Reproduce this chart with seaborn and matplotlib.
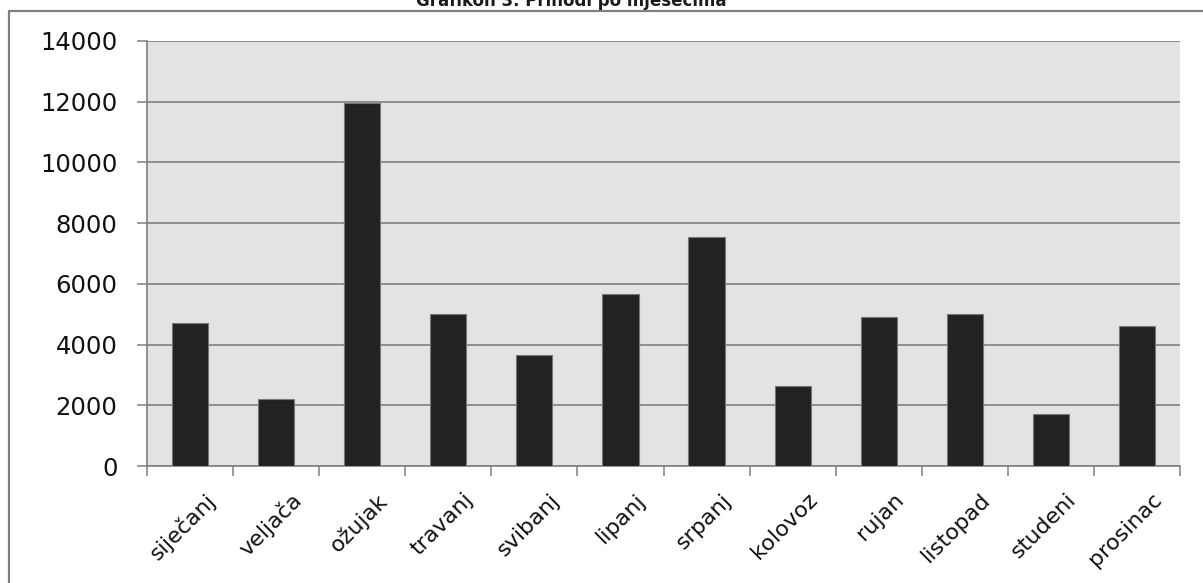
import numpy as np
import pandas as pd
import matplotlib
matplotlib.use("Agg")
import matplotlib.pyplot as plt
import matplotlib.transforms as mtransforms
from matplotlib.lines import Line2D
import seaborn as sns

months = ["siječanj", "veljača", "ožujak", "travanj", "svibanj", "lipanj",
          "srpanj", "kolovoz", "rujan", "listopad", "studeni", "prosinac"]
income = [4700, 2220, 11950, 5000, 3650, 5680, 7550, 2640, 4910, 5000, 1710, 4600]
y_ticks = [0, 2000, 4000, 6000, 8000, 10000, 12000, 14000]
title = "Grafikon 3. Prihodi po mjesecima"

sns.set_theme(style="white")
plt.rcParams["font.family"] = ["DejaVu Sans"]

W, H = 1203, 583
fig = plt.figure(figsize=(W / 100, H / 100), dpi=100)
fig.patch.set_facecolor("white")
ax = fig.add_axes([147 / W, (H - 466) / H, (1180 - 147) / W, (466 - 41) / H])
ax.set_facecolor("#e3e3e3")

df = pd.DataFrame({"month": months, "income": income})
sns.barplot(data=df, x="month", y="income", color="#222222", saturation=1,
            width=0.42, edgecolor="#777777", linewidth=0.8, ax=ax, zorder=3)

ax.set_xlim(-0.5, len(months) - 0.5)
ax.set_ylim(0, 14000)
ax.set_yticks(y_ticks)
ax.set_yticklabels([str(v) for v in y_ticks])
ax.set_xlabel("")
ax.set_ylabel("")
ax.yaxis.grid(True, color="#808080", linewidth=1.2, zorder=1)
ax.set_axisbelow(True)

for s in ["top", "right"]:
    ax.spines[s].set_visible(False)
for s in ["left", "bottom"]:
    ax.spines[s].set_color("#808080")
    ax.spines[s].set_linewidth(1.2)

ax.tick_params(axis="y", which="major", length=7.2, width=1.1, color="#808080",
               direction="out", pad=14, labelsize=17.5, labelcolor="#111111", left=True)
ax.set_xticks(np.arange(-0.5, len(months), 1.0), minor=True)
ax.tick_params(axis="x", which="minor", length=7.2, width=1.1, color="#808080",
               direction="out", bottom=True)
ax.tick_params(axis="x", which="major", length=0, pad=17, labelsize=16,
               labelcolor="#111111")

offset = mtransforms.ScaledTranslation(15 / 100, 0, fig.dpi_scale_trans)
for lab in ax.get_xticklabels():
    lab.set_rotation(45)
    lab.set_rotation_mode("anchor")
    lab.set_ha("right")
    lab.set_va("top")
    lab.set_transform(lab.get_transform() + offset)

# outer chart frame (cropped)
fig.add_artist(Line2D([9 / W, 1.2], [1 - 11 / H, 1 - 11 / H], transform=fig.transFigure,
                      color="#808080", linewidth=1.6))
fig.add_artist(Line2D([9 / W, 9 / W], [-0.2, 1 - 11 / H], transform=fig.transFigure,
                      color="#808080", linewidth=1.6))

fig.text(571 / W, 1 - 6 / H, title, ha="center", va="baseline",
         fontsize=12, fontweight="bold", color="#1a1a1a")

fig.savefig("out.png", dpi=100, facecolor="white")
